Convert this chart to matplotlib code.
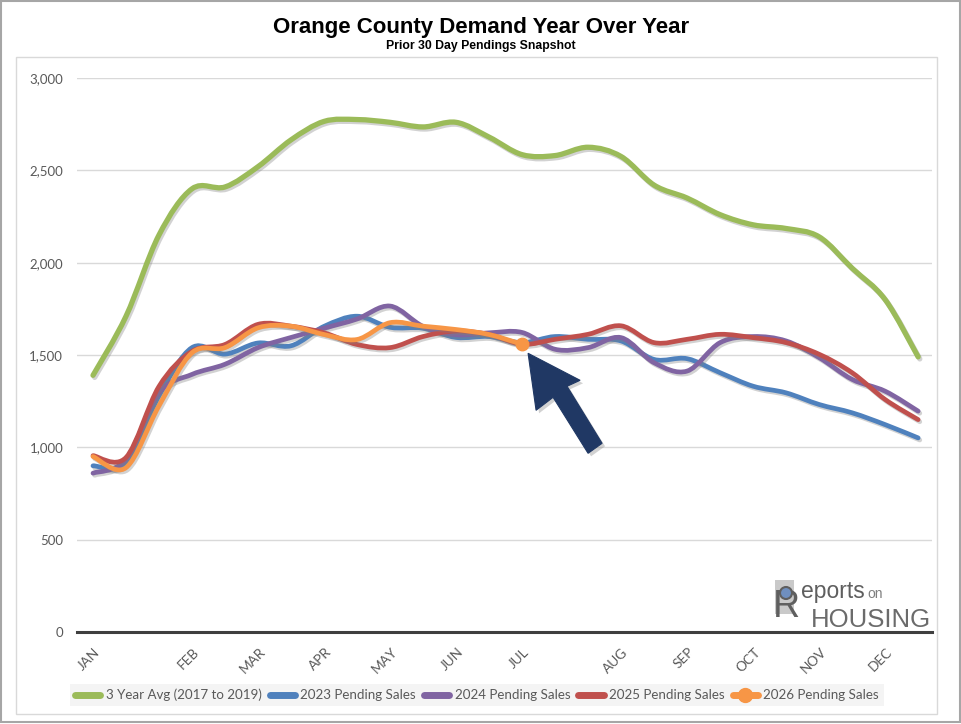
import numpy as np
import matplotlib
matplotlib.use('Agg')
from matplotlib import pyplot as plt
from matplotlib.path import Path
from matplotlib.patches import PathPatch, Rectangle, Polygon, Circle
from matplotlib.lines import Line2D
import matplotlib.patheffects as pe
import matplotlib.transforms as mtransforms

# ---- data (roughly twice a month) ----
months = ['JAN', 'FEB', 'MAR', 'APR', 'MAY', 'JUN', 'JUL', 'AUG', 'SEP', 'OCT', 'NOV', 'DEC']
month_pos = [0, 3, 5, 7, 9, 11, 13, 16, 18, 20, 22, 24]

avg_2017_2019 = [1390, 1710, 2150, 2400, 2410, 2520, 2665, 2765, 2775, 2760, 2735, 2760, 2680,
                 2585, 2580, 2625, 2575, 2420, 2350, 2260, 2205, 2185, 2140, 1970, 1800, 1490]
sales_2023 = [900, 915, 1280, 1540, 1505, 1565, 1550, 1655, 1710, 1650, 1645, 1595, 1600,
              1567, 1600, 1585, 1576, 1476, 1480, 1404, 1331, 1295, 1232, 1187, 1123, 1051]
sales_2024 = [860, 935, 1295, 1395, 1450, 1540, 1595, 1645, 1695, 1765, 1655, 1610, 1620,
              1622, 1531, 1540, 1594, 1458, 1413, 1567, 1600, 1576, 1486, 1368, 1304, 1196]
sales_2025 = [955, 945, 1330, 1520, 1557, 1666, 1656, 1620, 1557, 1540, 1600, 1630, 1611,
              1558, 1585, 1612, 1658, 1567, 1585, 1612, 1594, 1567, 1504, 1404, 1259, 1150]
sales_2026 = [950, 890, 1225, 1512, 1540, 1647, 1656, 1611, 1584, 1675, 1656, 1638, 1611, 1558]

series = [
    ('3 Year Avg (2017 to 2019)', avg_2017_2019, '#9BBB59'),
    ('2023 Pending Sales', sales_2023, '#4F81BD'),
    ('2024 Pending Sales', sales_2024, '#8064A2'),
    ('2025 Pending Sales', sales_2025, '#C0504D'),
    ('2026 Pending Sales', sales_2026, '#F79646'),
]

FONT = ['Lato', 'DejaVu Sans']
HEAD = ['Liberation Sans', 'DejaVu Sans']
GREY = '#595959'


def smooth_path(x, y):
    # Excel-style smoothed line: Catmull-Rom segments as cubic Beziers
    pts = np.column_stack([x, y]).astype(float)
    n = len(pts)
    verts = [pts[0]]
    codes = [Path.MOVETO]
    for i in range(n - 1):
        p0 = pts[i - 1] if i > 0 else pts[i]
        p1 = pts[i]
        p2 = pts[i + 1]
        p3 = pts[i + 2] if i + 2 < n else pts[i + 1]
        verts += [p1 + (p2 - p0) / 6.0, p2 - (p3 - p1) / 6.0, p2]
        codes += [Path.CURVE4] * 3
    return Path(verts, codes)


W, H = 962, 724
fig = plt.figure(figsize=(W / 100, H / 100), dpi=100)
# pixel coordinates measured from the top-left corner
px = mtransforms.Affine2D().scale(1 / W, -1 / H).translate(0, 1) + fig.transFigure

# frames
fig.patches.append(Rectangle((1, 1), W - 3, H - 3, transform=px, fill=False,
                             edgecolor='#a6a6a6', lw=1.5))
fig.patches.append(Rectangle((16, 57), 921, 657, transform=px, fill=False,
                             edgecolor='#d9d9d9', lw=1.0))

ax = fig.add_axes([77 / W, (H - 632) / H, (932 - 77) / W, (632 - 78) / H])
ax.set_xlim(-0.485, 25.42)
ax.set_ylim(0, 3000)
ax.set_yticks([0, 500, 1000, 1500, 2000, 2500, 3000])
ax.set_yticklabels(['{:,}'.format(v) for v in [0, 500, 1000, 1500, 2000, 2500, 3000]],
                   family=FONT, fontsize=9.5, color=GREY)
ax.yaxis.grid(True, color='#d9d9d9', lw=1.0)
ax.set_axisbelow(True)
for s in ['top', 'right', 'left']:
    ax.spines[s].set_visible(False)
ax.spines['bottom'].set_color('#3f3f3f')
ax.spines['bottom'].set_linewidth(2.2)
ax.spines['bottom'].set_zorder(1)
ax.tick_params(axis='y', length=0, pad=10)
ax.tick_params(axis='x', length=0, pad=13)

ax.set_xticks(month_pos)
ax.set_xticklabels(months, family=FONT, fontsize=9.8, color=GREY,
                   rotation=45, ha='right', va='center', rotation_mode='anchor')
shift = mtransforms.ScaledTranslation(0.05, 0, fig.dpi_scale_trans)
for lab in ax.get_xticklabels():
    lab.set_transform(lab.get_transform() + shift)

shadow = [pe.SimpleLineShadow(offset=(1.2, -1.5), shadow_color='#7f7f7f', alpha=0.35),
          pe.Normal()]

handles = []
for name, vals, col in series:
    xs = np.arange(len(vals))
    lw = 3.8 if col == '#9BBB59' else 3.4
    patch = PathPatch(smooth_path(xs, vals), fill=False, edgecolor=col, lw=lw,
                      capstyle='round', joinstyle='round', path_effects=shadow, zorder=3)
    ax.add_patch(patch)
    if name.startswith('2026'):
        ax.plot(xs[-1], vals[-1], 'o', color=col, ms=9, zorder=4)
        handles.append(Line2D([], [], color=col, lw=5, solid_capstyle='round',
                              marker='o', ms=10))
    else:
        handles.append(Line2D([], [], color=col, lw=5, solid_capstyle='round'))

# arrow pointing at the latest 2026 value
tip = ax.transData.transform((len(sales_2026) - 1, sales_2026[-1]))
tip_px = (tip[0], H - tip[1])
offs = [(6, 9), (58, 36), (45, 42), (80, 99), (66, 109), (31, 53), (14, 66)]
arrow = [(tip_px[0] + dx, tip_px[1] + dy) for dx, dy in offs]
fig.patches.append(Polygon([(x + 3, y + 3) for x, y in arrow], closed=True, transform=px,
                           facecolor='#7f7f7f', alpha=0.35, edgecolor='none', zorder=5))
fig.patches.append(Polygon(arrow, closed=True, transform=px, facecolor='#203864',
                           edgecolor='#203864', lw=0.8, zorder=6))

# titles
fig.text(481 / W, 1 - 27 / H, 'Orange County Demand Year Over Year', family=HEAD,
         fontsize=16, fontweight='bold', ha='center', va='center', color='black')
fig.text(481 / W, 1 - 46 / H, 'Prior 30 Day Pendings Snapshot', family=HEAD,
         fontsize=8.8, fontweight='bold', ha='center', va='center', color='black')

# logo
fig.patches.append(Rectangle((775, 580), 19, 34, transform=px, facecolor='#c9c9c9',
                             edgecolor='none', zorder=7))
fig.text(773, 617, 'R', transform=px, family=HEAD, fontsize=27, color='#5f5f5f',
         ha='left', va='baseline', zorder=8)
fig.patches.append(Circle((786, 593), 6, transform=px, facecolor='#6f8fbf',
                          edgecolor='#5f5f5f', lw=1.5, zorder=9))
fig.text(801, 598, 'eports', transform=px, family=HEAD, fontsize=16.5, color='#5f5f5f',
         ha='left', va='baseline', zorder=8)
fig.text(867, 598, 'on', transform=px, family=HEAD, fontsize=10, color='#7f7f7f',
         ha='left', va='baseline', zorder=8)
fig.text(811, 627, 'HOUSING', transform=px, family=HEAD, fontsize=18.5, color='#6b6b6b',
         ha='left', va='baseline', zorder=8)

leg = fig.legend(handles, [s[0] for s in series], loc='center',
                 bbox_to_anchor=(477 / W, 1 - 695 / H), ncol=5, frameon=True,
                 fancybox=False, facecolor='#f4f4f4', edgecolor='none', framealpha=1,
                 handlelength=1.9, handletextpad=0.4, columnspacing=0.6,
                 borderpad=0.35, prop={'family': FONT, 'size': 9.6})
for t in leg.get_texts():
    t.set_color(GREY)

fig.savefig('out.png', dpi=100)
